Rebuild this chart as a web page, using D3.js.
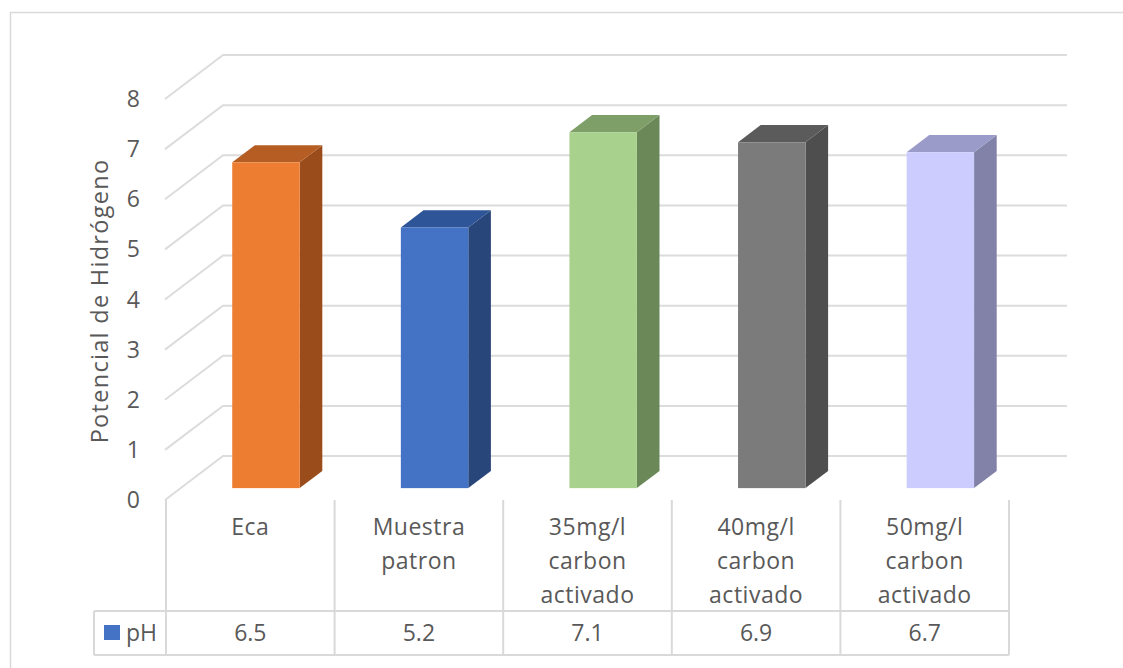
<!DOCTYPE html>
<html>
<head>
<meta charset="utf-8">
<script src="https://cdn.jsdelivr.net/npm/d3@7/dist/d3.min.js"></script>
<style>
  html, body { margin: 0; padding: 0; background: #fff; }
  svg { display: block; }
  text { font-family: "Open Sans", "Noto Sans", sans-serif; fill: #595959; }
</style>
</head>
<body>
<svg id="chart" width="1123" height="668"></svg>
<script>
// pH per sample
const categories = ["Eca", "Muestra patron", "35mg/l carbon activado", "40mg/l carbon activado", "50mg/l carbon activado"];
const values = [6.5, 5.2, 7.1, 6.9, 6.7];
const valueLabels = ["6.5", "5.2", "7.1", "6.9", "6.7"];
const yTicks = [0, 1, 2, 3, 4, 5, 6, 7, 8];
const seriesName = "pH";
const yTitle = "Potencial de Hidrógeno";

// face colours per bar: front, top, side
const frontColors = ["#ED7D31", "#4472C4", "#A9D18E", "#7B7B7B", "#CCCCFF"];
const topColors   = ["#B55D22", "#2E5597", "#7F9F69", "#5B5B5B", "#9B9BCA"];
const sideColors  = ["#9A4D1B", "#284679", "#6B8858", "#4E4E4E", "#8282A8"];
const legendColor = "#4472C4";

const svg = d3.select("#chart");
const grid = "#d9d9d9";

// front plane scales; depth is added as an oblique offset
const x = d3.scaleBand().domain(categories).range([166, 1009]).paddingInner(0).paddingOuter(0);
const y = d3.scaleLinear().domain([0, 8]).range([500, 99]);
const DX = 58, DY = -44;
const P = (px, v, z) => [px + z * DX, y(v) + z * DY];

// outer frame
svg.append("rect").attr("x", 10.5).attr("y", 12.5).attr("width", 1130).attr("height", 670)
  .attr("fill", "none").attr("stroke", grid).attr("stroke-width", 1.5);

// side wall + back wall gridlines
const gl = svg.append("g").attr("fill", "none").attr("stroke", "#dcdcdc").attr("stroke-width", 2);
const xl = x.range()[0] - 1, xr = x.range()[1];
yTicks.forEach(t => {
  const pts = [P(xl, t, 0), P(xl, t, 1), P(xr, t, 1)];
  gl.append("polyline").attr("points", pts.map(p => p.join(",")).join(" "));
});

// y tick labels
svg.append("g").selectAll("text").data(yTicks).join("text")
  .attr("x", 140).attr("y", d => y(d)).attr("dy", "0.35em")
  .attr("text-anchor", "end").attr("font-size", 23).text(d => d);

// y axis title
svg.append("text")
  .attr("transform", "translate(100,301) rotate(-90)")
  .attr("text-anchor", "middle").attr("dy", "0.35em")
  .attr("font-size", 23.5).attr("letter-spacing", 1.3).text(yTitle);

// bars
const z0 = 0.27, z1 = 0.66;
const barW = x.bandwidth() * 0.4;
const bars = svg.append("g");
categories.forEach((c, i) => {
  const v = values[i];
  const a = x(c) + (x.bandwidth() - barW) / 2;
  const b = a + barW;
  const poly = pts => pts.map(p => p.join(",")).join(" ");
  const g = bars.append("g");
  // side face
  g.append("polygon").attr("fill", sideColors[i])
    .attr("points", poly([P(b, 0, z0), P(b, v, z0), P(b, v, z1), P(b, 0, z1)]));
  // top face
  g.append("polygon").attr("fill", topColors[i])
    .attr("points", poly([P(a, v, z0), P(b, v, z0), P(b, v, z1), P(a, v, z1)]));
  // front face
  const f0 = P(a, v, z0), f1 = P(b, 0, z0);
  g.append("rect").attr("fill", frontColors[i])
    .attr("x", f0[0]).attr("y", f0[1]).attr("width", f1[0] - f0[0]).attr("height", f1[1] - f0[1]);
});

// data table
const tTop = 500, rowTop = 611, tBottom = 655, legendLeft = 94;
const tbl = svg.append("g").attr("stroke", grid).attr("stroke-width", 2).attr("fill", "none");
const edges = categories.map(c => x(c)).concat([x.range()[1]]);
edges.forEach(e => tbl.append("line").attr("x1", e).attr("x2", e).attr("y1", tTop).attr("y2", tBottom));
tbl.append("line").attr("x1", legendLeft).attr("x2", legendLeft).attr("y1", rowTop).attr("y2", tBottom);
[rowTop, tBottom].forEach(yy => tbl.append("line").attr("x1", legendLeft).attr("x2", x.range()[1]).attr("y1", yy).attr("y2", yy));

// category labels
const lineH = 34;
categories.forEach(c => {
  const lines = c.split(" ");
  const t = svg.append("text").attr("text-anchor", "middle").attr("font-size", 23)
    .attr("letter-spacing", 0.5).attr("x", x(c) + x.bandwidth() / 2);
  lines.forEach((ln, k) => {
    t.append("tspan").attr("x", x(c) + x.bandwidth() / 2).attr("y", 527 + k * lineH)
      .attr("dy", "0.35em").text(ln);
  });
});

// value row
svg.append("g").selectAll("text").data(categories).join("text")
  .attr("x", d => x(d) + x.bandwidth() / 2).attr("y", (rowTop + tBottom) / 2)
  .attr("dy", "0.35em").attr("text-anchor", "middle").attr("font-size", 23)
  .text((d, i) => valueLabels[i]);

// legend key
svg.append("rect").attr("x", 104).attr("y", 625).attr("width", 16).attr("height", 15).attr("fill", legendColor);
svg.append("text").attr("x", 126).attr("y", (rowTop + tBottom) / 2).attr("dy", "0.35em")
  .attr("font-size", 23).text(seriesName);
</script>
</body>
</html>
